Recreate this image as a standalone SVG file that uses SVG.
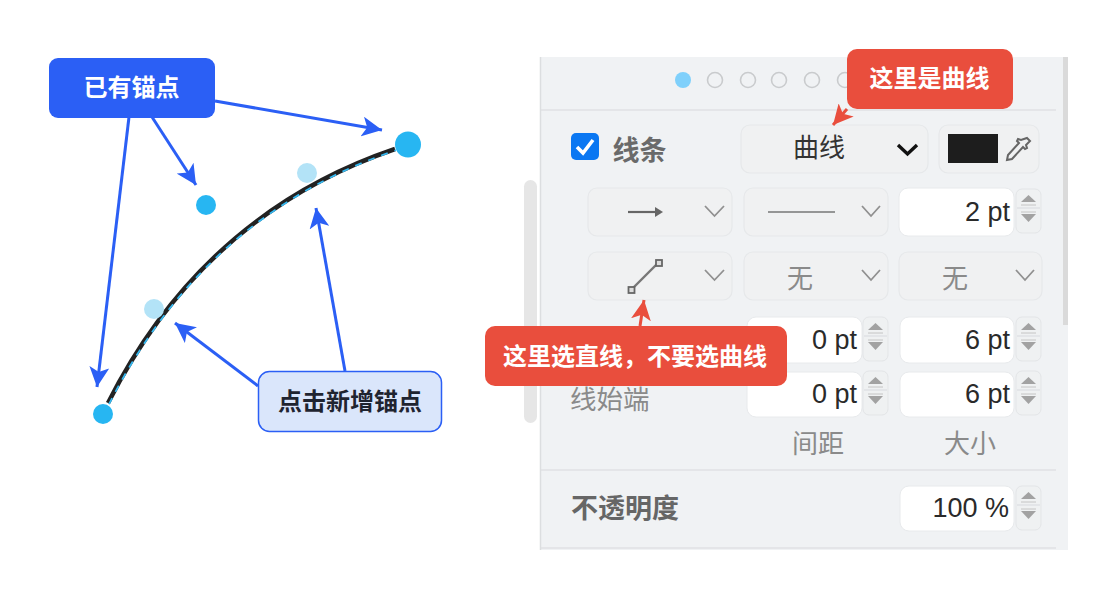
<svg xmlns="http://www.w3.org/2000/svg" width="1116" height="599" viewBox="0 0 1116 599">
<style>
text{font-family:"Liberation Sans","Noto Sans CJK SC",sans-serif}
.cjk{font-family:"Noto Sans CJK SC",sans-serif}
.ctl{fill:#f0f1f2;stroke:#e6e8ea;stroke-width:1.200}
.inp{fill:#fff;stroke:#e8eaec;stroke-width:1}
.spin{fill:#eff1f2;stroke:#e3e5e7;stroke-width:1}
.chev{fill:none;stroke:#909090;stroke-width:1.800}
.dot{fill:#f0f2f4;stroke:#c9cbcd;stroke-width:1.600}
.num{font-size:27px;fill:#2a2a2a;text-anchor:end}
.lab{font-size:26px;fill:#8a8a8a;text-anchor:middle}
.tri{fill:#a2a2a2}
.sep{stroke:#dfe1e4;stroke-width:1.500;fill:none}
.conn{stroke:#2b5ff5;stroke-width:3;fill:none;marker-end:url(#blue)}
.red{stroke:#e94e3d;stroke-width:3;fill:none;marker-end:url(#redm)}
.w{font-size:24px;font-weight:700;fill:#fff;text-anchor:middle}
</style>
<defs>
<marker id="blue" markerUnits="userSpaceOnUse" markerWidth="22" markerHeight="20" refX="20" refY="10" orient="auto"><path d="M0 0L20 10L0 20L5 10Z" fill="#2b5ff5"/></marker>
<marker id="redm" markerUnits="userSpaceOnUse" markerWidth="22" markerHeight="20" refX="20" refY="10" orient="auto"><path d="M0 0L20 10L0 20L5 10Z" fill="#e94e3d"/></marker>
<g id="sp"><rect class="spin" x="0" y="0" width="25" height="44" rx="6"/><path class="tri" d="M12.500 6L20 13H5Z"/><path class="sep" d="M1 19H24"/><path class="tri" d="M5 25H20L12.500 33Z"/><path d="M5 16H20M5 23H20" stroke="#c4c4c4" stroke-width="1" fill="none"/></g>
</defs>
<rect width="1116" height="599" fill="#fff"/>

<g id="panel">
<rect x="524" y="180" width="13" height="243" rx="6.500" fill="#e6e6e6"/>
<rect x="540" y="57" width="528" height="493" fill="#f0f2f4"/>
<path d="M540.500 57V550" stroke="#dcdee0" stroke-width="1.500"/>
<rect x="1063" y="57" width="5" height="268" fill="#dadada"/>
<path class="sep" d="M541 110H1056M541 470H1056M541 548H1056"/>
<circle cx="683" cy="80" r="8" fill="#7fd0fb"/>
<circle class="dot" cx="715" cy="80" r="7.500"/><circle class="dot" cx="748" cy="80" r="7.500"/><circle class="dot" cx="779" cy="80" r="7.500"/><circle class="dot" cx="812" cy="80" r="7.500"/><circle class="dot" cx="845" cy="80" r="7.500"/>
<rect x="571" y="133" width="28" height="27" rx="5" fill="#0a77f2"/>
<path d="M577 147L583 153L593 140" fill="none" stroke="#fff" stroke-width="3.600"/>
<text class="cjk" x="639.500" y="160" font-size="27" font-weight="700" fill="#6a6a6a" text-anchor="middle">线条</text>
<rect class="ctl" x="741" y="125" width="187" height="48" rx="9"/>
<text class="cjk" x="819" y="157" font-size="26" fill="#333" text-anchor="middle">曲线</text>
<path d="M898 145L907.500 154L917 145" fill="none" stroke="#111" stroke-width="3.400"/>
<rect class="ctl" x="939" y="125" width="100" height="48" rx="9"/>
<rect x="948" y="134" width="50" height="29" fill="#1d1d1d"/>
<path d="M1027 138l3 3-4 4 1 3-2 1-2-2-11 12-5 1 1-5 11-12-2-2 1-2 3 1z" fill="none" stroke="#666" stroke-width="2"/>

<rect class="ctl" x="588" y="188" width="144" height="48" rx="9"/>
<path d="M628 212H657" stroke="#666" stroke-width="2.200"/><path d="M655 207L663 212L655 217Z" fill="#666"/>
<path class="chev" d="M705 206L714.500 216L724 206"/>
<rect class="ctl" x="744" y="188" width="144" height="48" rx="9"/>
<path d="M768 212H835" stroke="#777" stroke-width="1.500"/>
<path class="chev" d="M862 206L871 216L880 206"/>
<rect class="inp" x="899" y="188" width="115" height="48" rx="9"/>
<text class="num" x="1010" y="221">2 pt</text>
<use href="#sp" x="1016" y="189"/>

<rect class="ctl" x="588" y="252" width="144" height="48" rx="9"/>
<path d="M632 289L658 263" stroke="#777" stroke-width="2.400"/>
<rect x="628.500" y="287" width="6" height="6" fill="#ddd" stroke="#666" stroke-width="1.800"/><rect x="656" y="260" width="6" height="6" fill="#ddd" stroke="#666" stroke-width="1.800"/>
<path class="chev" d="M705 270L714.500 280L724 270"/>
<rect class="ctl" x="744" y="252" width="144" height="48" rx="9"/>
<text class="lab cjk" x="800" y="288">无</text>
<path class="chev" d="M862 270L871 280L880 270"/>
<rect class="ctl" x="899" y="252" width="143" height="48" rx="9"/>
<text class="lab cjk" x="955" y="288">无</text>
<path class="chev" d="M1016 270L1025 280L1034 270"/>

<rect class="inp" x="747" y="317" width="115" height="46" rx="9"/>
<text class="num" x="857" y="349">0 pt</text>
<use href="#sp" x="863" y="317"/>
<rect class="inp" x="900" y="317" width="114" height="46" rx="9"/>
<text class="num" x="1010" y="349">6 pt</text>
<use href="#sp" x="1016" y="317"/>
<rect class="inp" x="747" y="372" width="115" height="45" rx="9"/>
<text class="num" x="857" y="403">0 pt</text>
<use href="#sp" x="863" y="371"/>
<rect class="inp" x="900" y="372" width="114" height="45" rx="9"/>
<text class="num" x="1010" y="403">6 pt</text>
<use href="#sp" x="1016" y="371"/>
<text class="cjk" x="570" y="409" font-size="26.500" fill="#8a8a8a">线始端</text>
<text class="lab cjk" x="818" y="453">间距</text>
<text class="lab cjk" x="970" y="453">大小</text>
<text class="cjk" x="571" y="518" font-size="27" font-weight="700" fill="#666">不透明度</text>
<rect class="inp" x="900" y="486" width="114" height="45" rx="9"/>
<text class="num" x="1009" y="517">100 %</text>
<use href="#sp" x="1016" y="486"/>
</g>

<g id="curve">
<path d="M108 403C150 320 230 205 395 149" fill="none" stroke="#222" stroke-width="4.500"/>
<path d="M108 403C150 320 230 205 395 149" fill="none" stroke="#35b8f0" stroke-width="1.800" stroke-dasharray="7 7" transform="translate(1 1.200)"/>
</g>
<g id="anchors">
<circle cx="408" cy="144.500" r="13" fill="#27b6f2"/>
<circle cx="206" cy="205" r="10" fill="#27b6f2"/>
<circle cx="103" cy="414" r="10" fill="#27b6f2"/>
<circle cx="307" cy="173" r="10" fill="#b3e3f7"/>
<circle cx="154" cy="309" r="10" fill="#b3e3f7"/>
</g>

<g id="connectors">
<path class="conn" d="M215 101L382 130"/>
<path class="conn" d="M152 117L196 185"/>
<path class="conn" d="M129 117L97 387"/>
<path class="conn" d="M258 386L175 323"/>
<path class="conn" d="M345 371L316 208"/>
<path class="red" d="M847 109L833 125"/>
<path class="red" d="M640 326L644 300"/>
</g>

<g id="node-existing">
<rect x="49" y="58" width="166" height="60" rx="9" fill="#2b5ff5"/>
<text class="w cjk" x="131.500" y="96">已有锚点</text>
</g>
<g id="node-new">
<rect x="258.500" y="371.500" width="183" height="60" rx="11" fill="#dae6fb" stroke="#2b5ff5" stroke-width="1.500"/>
<text class="cjk" x="350" y="410" font-size="24" font-weight="700" fill="#1f2430" text-anchor="middle">点击新增锚点</text>
</g>
<g id="node-curve">
<rect x="847" y="49" width="166" height="60" rx="10" fill="#e94e3d"/>
<text class="w cjk" x="929.500" y="87">这里是曲线</text>
</g>
<g id="node-line">
<rect x="485" y="326" width="302" height="60" rx="10" fill="#e94e3d"/>
<text class="w cjk" x="635" y="365">这里选直线，不要选曲线</text>
</g>
</svg>
